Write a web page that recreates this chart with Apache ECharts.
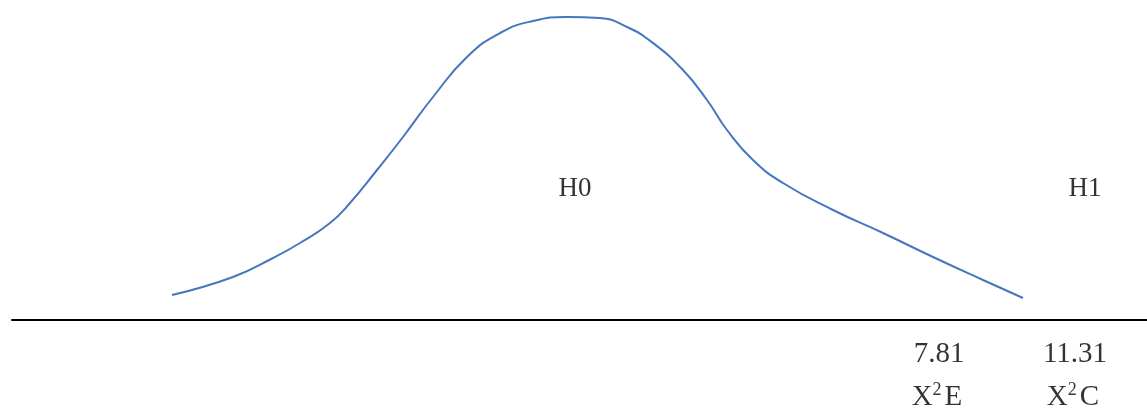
<!DOCTYPE html>
<html>
<head>
<meta charset="utf-8">
<script src="https://cdn.jsdelivr.net/npm/echarts@6/dist/echarts.min.js"></script>
<style>html,body{margin:0;padding:0;background:#fff;}#c{width:1147px;height:411px;}</style>
</head>
<body>
<div id="c"></div>
<script>
// curve: x position and height above baseline
const curveX = [172,233,273,300,330,350,377,403,433,467,500,533,567,600,627,653,683,707,727,753,783,833,883,933,983,1023];
const curveY = [25,43,62,77,97,117,150,183,223,263,287,299,303,302,293,277,250,220,190,160,137,110,87,63,40,22];

const labelText = ['H0','H1','7.81','11.31','{b|X}{s|2}{b|E}','{b|X}{s|2}{b|C}'];
const labelX = [575,1085,939,1075,937,1073];
const labelY = [131,131,-34,-34,-77,-77];
const labelSize = [27,27,29,29,29,29];

const chart = echarts.init(document.getElementById('c'));
const font = '"Liberation Serif","Times New Roman",serif';
chart.setOption({
  animation:false,
  backgroundColor:'#fff',
  grid:{left:12,right:0,top:0,bottom:0},
  xAxis:{type:'value',min:12,max:1147,axisLine:{onZero:true,lineStyle:{color:'#000',width:2}},axisTick:{show:false},axisLabel:{show:false},splitLine:{show:false}},
  yAxis:{type:'value',min:-91,max:320,show:false,splitLine:{show:false}},
  series:[
    {type:'line',data:curveX.map((x,i)=>[x,curveY[i]]),smooth:0.5,showSymbol:false,
     lineStyle:{color:'#4677BE',width:2}},
    {type:'scatter',symbolSize:0,silent:true,
     data:labelX.map((x,i)=>({value:[x,labelY[i]],name:labelText[i],label:{fontSize:labelSize[i]}})),
     label:{show:true,position:'inside',formatter:p=>p.name,color:'#000',textBorderWidth:0,fontFamily:font,fontSize:27,
       rich:{b:{fontFamily:font,fontSize:29,color:'#000',textBorderWidth:0},s:{fontFamily:font,fontSize:18,color:'#000',textBorderWidth:0,verticalAlign:'top',padding:[0,3,14,0]}}}}
  ]
});
</script>
</body>
</html>
